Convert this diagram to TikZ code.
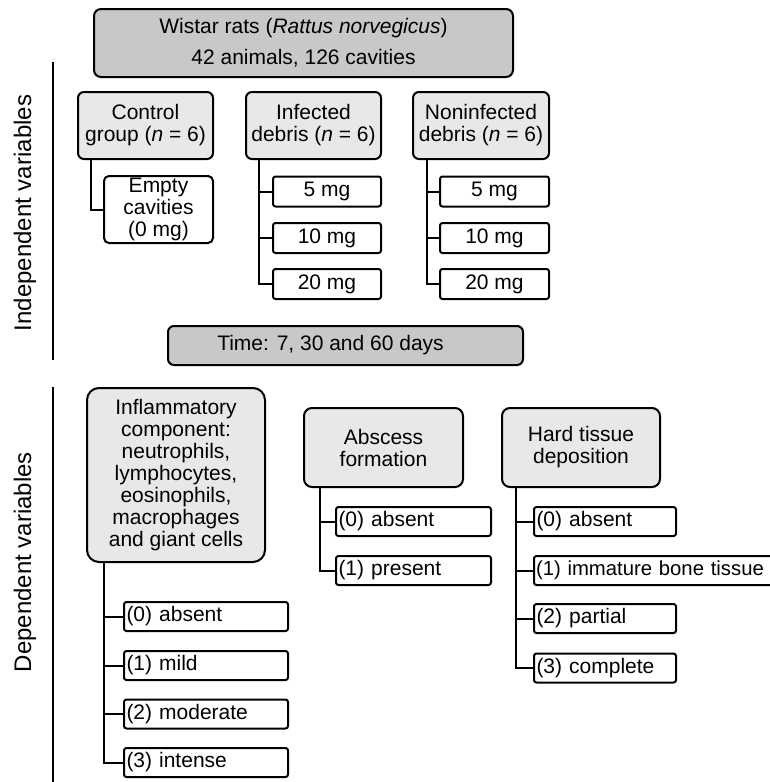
\documentclass[tikz,border=0pt]{standalone}
\usepackage{fontspec}
\setmainfont{Liberation Sans}
\usepackage{tikz}
\usetikzlibrary{positioning}

\definecolor{boxdark}{RGB}{200,200,200}
\definecolor{boxlight}{RGB}{232,232,232}

\tikzset{
    mainbox/.style={draw, line width=2pt, rounded corners=7pt, fill=boxdark, inner sep=0pt, align=center},
    groupbox/.style={draw, line width=2pt, rounded corners=6pt, fill=boxlight, inner sep=0pt, align=center},
    levelbox/.style={draw, line width=2pt, rounded corners=2.5pt, fill=white, inner sep=0pt, align=center, minimum height=30pt},
    scorebox/.style={levelbox, anchor=west, align=left, inner xsep=2.5pt, text width=#1-5pt, minimum height=29pt},
    tree/.style={line width=2pt}
}

\begin{document}
\begin{tikzpicture}[x=1pt, y=-1pt, font=\fontsize{21}{22}\selectfont]
    \useasboundingbox (0,0) rectangle (769,782);

    % independent variables
    \node[mainbox, minimum width=419pt, minimum height=68pt] (rats) at (303.5,43)
        {Wistar rats (\textit{Rattus norvegicus})\\[9pt]42 animals, 126 cavities};

    \node[groupbox, minimum width=135pt, minimum height=67pt] (ctrl) at (145.5,125.5) {Control\\group (\textit{n} = 6)};
    \node[groupbox, minimum width=135pt, minimum height=67pt] (inf) at (313.5,125.5) {Infected\\debris (\textit{n} = 6)};
    \node[groupbox, minimum width=136pt, minimum height=67pt] (non) at (481,125.5) {Noninfected\\debris (\textit{n} = 6)};

    \node[levelbox, rounded corners=5pt, minimum width=109pt, minimum height=67pt] (empty) at (158.5,209.5) {Empty\\cavities\\(0 mg)};
    \node[levelbox, minimum width=108pt] (inf5) at (327,191.5) {5 mg};
    \node[levelbox, minimum width=108pt] (inf10) at (327,238) {10 mg};
    \node[levelbox, minimum width=108pt] (inf20) at (327,284) {20 mg};
    \node[levelbox, minimum width=109pt] (non5) at (494.5,191.5) {5 mg};
    \node[levelbox, minimum width=109pt] (non10) at (494.5,238) {10 mg};
    \node[levelbox, minimum width=109pt] (non20) at (494.5,284) {20 mg};

    \node[mainbox, rounded corners=6pt, minimum width=355pt, minimum height=39pt] (time) at (345.5,345.5)
        {\hspace*{-30pt}Time: 7, 30 and 60 days};

    % dependent variables
    \node[groupbox, rounded corners=12pt, minimum width=178pt, minimum height=174pt] (infl) at (176,475)
        {Inflammatory\\component:\\neutrophils,\\lymphocytes,\\eosinophils,\\macrophages\\and giant cells};
    \node[groupbox, rounded corners=8pt, minimum width=159pt, minimum height=79pt] (absc) at (383.5,447.5) {Abscess\\formation};
    \node[groupbox, rounded corners=8pt, minimum width=158pt, minimum height=79pt] (hard) at (581,447.5) {Hard tissue\\deposition};

    \node[scorebox=164pt] (infl0) at (123,616.5) {(0) absent};
    \node[scorebox=164pt] (infl1) at (123,665.5) {(1) mild};
    \node[scorebox=164pt] (infl2) at (123,714) {(2) moderate};
    \node[scorebox=164pt] (infl3) at (123,762.5) {(3) intense};

    \node[scorebox=155pt] (absc0) at (335,521.5) {(0) absent};
    \node[scorebox=155pt] (absc1) at (335,570.5) {(1) present};

    \node[scorebox=142pt] (hard0) at (533,521.5) {(0) absent};
    \node[scorebox=245pt, inner xsep=2pt, font=\fontsize{20.3}{22}\selectfont] (hard1) at (533,570.5) {(1) immature bone tissue};
    \node[scorebox=142pt] (hard2) at (533,618.5) {(2) partial};
    \node[scorebox=142pt] (hard3) at (533,668) {(3) complete};

    % tree lines
    \draw[tree] (ctrl.south west) ++(14pt,0) |- (empty.west);
    \foreach \c in {inf5,inf10,inf20} \draw[tree] (inf.south west) ++(14pt,0) |- (\c.west);
    \foreach \c in {non5,non10,non20} \draw[tree] (non.south west) ++(15pt,0) |- (\c.west);
    \foreach \c in {infl0,infl1,infl2,infl3} \draw[tree] (infl.south west) ++(18pt,0) |- (\c.west);
    \foreach \c in {absc0,absc1} \draw[tree] (absc.south west) ++(17pt,0) |- (\c.west);
    \foreach \c in {hard0,hard1,hard2,hard3} \draw[tree] (hard.south west) ++(15pt,0) |- (\c.west);

    % side labels
    \draw[line width=1.5pt] (53,62) -- (53,360);
    \draw[line width=1.5pt] (53,387) -- (53,782);
    \node[rotate=90, font=\fontsize{24}{26}\selectfont] (indep) at (25,213) {Independent variables};
    \node[rotate=90, font=\fontsize{24}{26}\selectfont] (dep) at (25,562) {Dependent variables};
\end{tikzpicture}
\end{document}
